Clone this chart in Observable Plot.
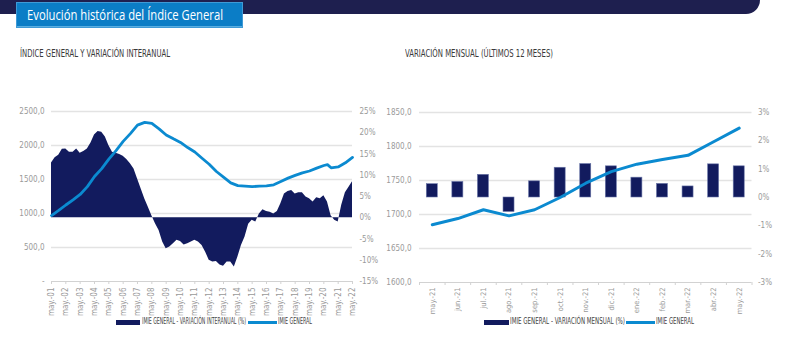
<!DOCTYPE html>
<html>
<head>
<meta charset="utf-8">
<script src="https://cdn.jsdelivr.net/npm/d3@7"></script>
<script src="https://cdn.jsdelivr.net/npm/@observablehq/plot@0.6"></script>
<style>
  html, body { margin: 0; padding: 0; background: #fff; }
  #page { position: relative; width: 808px; height: 360px; overflow: hidden; background: #fff;
          font-family: "Liberation Sans Narrow", "DejaVu Sans Condensed", "Liberation Sans", sans-serif; }
  .abs { position: absolute; white-space: nowrap; }
  .fit { transform-origin: left center; }
  .chart { position: absolute; }
  .chart svg { overflow: visible; }
</style>
</head>
<body>
<div id="page">
  <div class="abs" style="left:0;top:0;width:760px;height:14px;background:#1e1f4f;border-bottom-right-radius:16px;"></div>
  <div class="abs" style="left:17px;top:3px;width:225px;height:24px;background:#0b7dc6;box-shadow: inset 0 -1px 0 #5aaee0, 0 0 0 1px #3f9ad6;"></div>
  <div class="abs fit" data-w="196" style="left:27px;top:6px;line-height:18px;font-size:14.5px;color:#fff;font-family:'Open Sans','Noto Sans',sans-serif;">Evolución histórica del Índice General</div>

  <div class="abs fit" data-w="150" style="left:20px;top:47px;line-height:12px;font-size:10.5px;color:#3a3a3a;">ÍNDICE GENERAL Y VARIACIÓN INTERANUAL</div>
  <div class="abs fit" data-w="148" style="left:405px;top:47px;line-height:12px;font-size:10.5px;color:#3a3a3a;">VARIACIÓN MENSUAL (ÚLTIMOS 12 MESES)</div>

  <div id="left" class="chart" style="left:0;top:100px;"></div>
  <div id="right" class="chart" style="left:360px;top:100px;"></div>

  <div class="abs" style="left:116px;top:320px;width:24px;height:5px;background:#121b5e;"></div>
  <div class="abs fit" data-w="104" style="left:142px;top:317px;line-height:10px;font-size:8px;color:#444;">IMIE GENERAL - VARIACIÓN INTERANUAL (%)</div>
  <div class="abs" style="left:248px;top:321px;width:29px;height:3px;background:#0b8ad0;"></div>
  <div class="abs fit" data-w="34" style="left:278px;top:317px;line-height:10px;font-size:8px;color:#444;">IMIE GENERAL</div>

  <div class="abs" style="left:484px;top:320px;width:25px;height:5px;background:#121b5e;"></div>
  <div class="abs fit" data-w="115" style="left:510px;top:317px;line-height:10px;font-size:8px;color:#444;">IMIE GENERAL - VARIACIÓN MENSUAL (%)</div>
  <div class="abs" style="left:626px;top:321px;width:29px;height:3px;background:#0b8ad0;"></div>
  <div class="abs fit" data-w="38" style="left:656px;top:317px;line-height:10px;font-size:8px;color:#444;">IMIE GENERAL</div>
</div>

<script>
// ---------------- DATA ----------------
// Left chart: year tick labels (May of each year)
const yearLabels = ["may.-01","may.-02","may.-03","may.-04","may.-05","may.-06","may.-07","may.-08","may.-09","may.-10","may.-11",
  "may.-12","may.-13","may.-14","may.-15","may.-16","may.-17","may.-18","may.-19","may.-20","may.-21","may.-22"];
const firstYear = 2001;

// Interannual variation (%), quarterly readings from may-01 to may-22
const interannualPct = [
  12.9, 14.1, 14.7, 16.1, 16.2, 15.4, 15.4, 16.2, 15.2, 15.6,
  16.2, 17.6, 19.5, 20.3, 20.1, 19.0, 17.0, 15.4, 15.2, 14.9,
  14.5, 13.7, 12.7, 11.5, 9.2, 6.8, 4.5, 2.5, 0.5, -1.4,
  -3.0, -5.7, -7.3, -6.9, -6.1, -5.3, -5.6, -6.4, -6.1, -5.7,
  -5.3, -5.7, -6.5, -8.1, -10.0, -10.4, -10.3, -11.1, -11.4, -10.4,
  -10.4, -11.6, -9.3, -6.5, -4.5, -1.5, -0.6, -1.0, 0.9, 1.9,
  1.5, 1.3, 0.9, 1.5, 3.3, 5.6, 6.2, 6.4, 5.6, 5.9,
  5.9, 4.9, 4.5, 3.7, 4.7, 4.5, 5.2, 3.7, 0.5, -0.6,
  -1.0, 3.0, 5.9, 7.2, 8.5
];

// General index (left axis)
const indexDates = ["2001-05","2001-11","2002-05","2002-11","2003-05","2003-11","2004-05","2004-11","2005-05","2005-11",
  "2006-05","2006-11","2007-05","2007-11","2008-05","2008-11","2009-05","2009-11","2010-05","2010-11",
  "2011-05","2011-11","2012-05","2012-11","2013-05","2013-11","2014-05","2014-11","2015-05","2015-11",
  "2016-05","2016-11","2017-05","2017-11","2018-05","2018-11","2019-05","2019-11","2020-05","2020-08",
  "2020-11","2021-05","2021-11","2022-05"];
const indexValues = [970, 1045, 1125, 1200, 1280, 1395, 1545, 1660, 1800, 1925,
  2060, 2175, 2300, 2340, 2325, 2245, 2155, 2098, 2045, 1970,
  1905, 1813, 1725, 1618, 1535, 1451, 1410, 1402, 1395, 1402,
  1405, 1422, 1470, 1520, 1560, 1598, 1625, 1667, 1706, 1718,
  1672, 1685, 1746, 1825];

const leftTicks = [0, 500, 1000, 1500, 2000, 2500];
const leftPctTicks = [-15, -10, -5, 0, 5, 10, 15, 20, 25];

// Right chart
const months = ["may.-21","jun.-21","jul.-21","ago.-21","sep.-21","oct.-21","nov.-21","dic.-21","ene.-22","feb.-22","mar.-22","abr.-22","may.-22"];
const monthlyPct = [0.47, 0.55, 0.80, -0.51, 0.57, 1.05, 1.18, 1.10, 0.70, 0.48, 0.39, 1.17, 1.10];
const monthlyIndex = [1685, 1694, 1707, 1698, 1707, 1725, 1746, 1763, 1774, 1781, 1787, 1807, 1827];
const rightTicks = [1600, 1650, 1700, 1750, 1800, 1850];
const rightPctTicks = [-3, -2, -1, 0, 1, 2, 3];

// ---------------- STYLE ----------------
const NAVY = "#121b5e", BLUE = "#0b8ad0", GRID = "#e3e3e3", AXIS = "#d2d2d2", TXT = "#9a9a9a";
const FONT = '"Liberation Sans Narrow", "DejaVu Sans Condensed", "Liberation Sans", sans-serif';
const fmtNum = v => v === 0 ? "-" : d3.format(".1f")(v).replace(".", ",");

// ---------------- LEFT CHART ----------------
{
  // secondary axis mapping: -15% -> 0, 25% -> 2500
  const toL = p => (p + 15) * 62.5;
  const fromL = v => v / 62.5 - 15;
  const q = interannualPct.map((v, i) => ({date: new Date(Date.UTC(firstYear, 4 + 3 * i, 1)), v}));
  const idx = indexDates.map((s, i) => ({date: new Date(Date.UTC(+s.slice(0, 4), +s.slice(5) - 1, 1)), v: indexValues[i]}));
  const yearDates = yearLabels.map((_, k) => new Date(Date.UTC(firstYear + k, 4, 1)));
  const labelOf = new Map(yearDates.map((d, i) => [+d, yearLabels[i]]));

  const chart = Plot.plot({
    width: 400, height: 221,
    marginLeft: 51, marginRight: 48, marginTop: 11, marginBottom: 40,
    style: {background: "transparent", fontFamily: FONT, fontSize: "8px", color: TXT},
    x: {type: "utc", domain: [yearDates[0], yearDates[yearDates.length - 1]]},
    y: {domain: [0, 2500]},
    marks: [
      Plot.ruleY(leftTicks.filter(v => v > 0), {stroke: GRID, strokeWidth: 1.3}),
      Plot.areaY(q, {x: "date", y1: toL(0), y2: d => toL(d.v), curve: "linear", fill: NAVY}),
      Plot.ruleY([0], {stroke: AXIS, strokeWidth: 1}),
      Plot.axisX(yearDates, {tickFormat: d => labelOf.get(+d), tickRotate: -90, tickSize: 3, tickPadding: 3, stroke: AXIS, fill: TXT, label: null}),
      Plot.axisY(leftTicks, {anchor: "left", tickSize: 0, tickPadding: 7, tickFormat: fmtNum, fill: TXT, label: null}),
      Plot.axisY(leftPctTicks.map(toL), {anchor: "right", tickSize: 0, tickPadding: 7, tickFormat: v => Math.round(fromL(v)) + "%", fill: TXT, label: null}),
      Plot.line(idx, {x: "date", y: "v", stroke: BLUE, strokeWidth: 2.8, strokeLinejoin: "round"})
    ]
  });
  document.getElementById("left").appendChild(chart);
}

// ---------------- RIGHT CHART ----------------
{
  // secondary axis mapping: -3% -> 1600, 3% -> 1850
  const toL = p => 1725 + p * 250 / 6;
  const fromL = v => (v - 1725) * 6 / 250;
  const data = months.map((m, i) => ({i, m, pct: monthlyPct[i], idx: monthlyIndex[i]}));
  const boundaries = d3.range(months.length + 1).map(i => i - 0.5);

  const chart = Plot.plot({
    width: 448, height: 222,
    marginLeft: 59, marginRight: 56.5, marginTop: 12, marginBottom: 40,
    style: {background: "transparent", fontFamily: FONT, fontSize: "8px", color: TXT},
    x: {domain: [-0.5, months.length - 0.5]},
    y: {domain: [1600, 1850]},
    marks: [
      Plot.ruleY(rightTicks.filter(v => v > 1600), {stroke: GRID, strokeWidth: 1.3}),
      Plot.ruleY([1600], {stroke: AXIS}),
      Plot.axisX(boundaries, {tickFormat: () => "", tickSize: 3, stroke: AXIS, label: null}),
      Plot.axisX(d3.range(months.length), {tickFormat: i => months[i], tickRotate: -90, tickSize: 0, tickPadding: 5, fill: TXT, fontSize: 7.5, label: null}),
      Plot.rect(data, {x1: d => d.i - 0.215, x2: d => d.i + 0.215, y1: toL(0), y2: d => toL(d.pct), fill: NAVY, stroke: "#6a76a8", strokeWidth: 0.6}),
      Plot.line(data, {x: "i", y: "idx", stroke: BLUE, strokeWidth: 3, strokeLinejoin: "round"}),
      Plot.axisY(rightTicks, {anchor: "left", tickSize: 0, tickPadding: 8, tickFormat: fmtNum, fill: TXT, label: null}),
      Plot.axisY(rightPctTicks.map(toL), {anchor: "right", tickSize: 0, tickPadding: 6, tickFormat: v => Math.round(fromL(v)) + "%", fill: TXT, label: null})
    ]
  });
  document.getElementById("right").appendChild(chart);
}

// ---------------- fit texts to measured widths ----------------
document.querySelectorAll(".fit").forEach(el => {
  const w = el.getBoundingClientRect().width;
  const target = +el.dataset.w;
  if (w > 0) el.style.transform = `scaleX(${target / w})`;
});
</script>
</body>
</html>
